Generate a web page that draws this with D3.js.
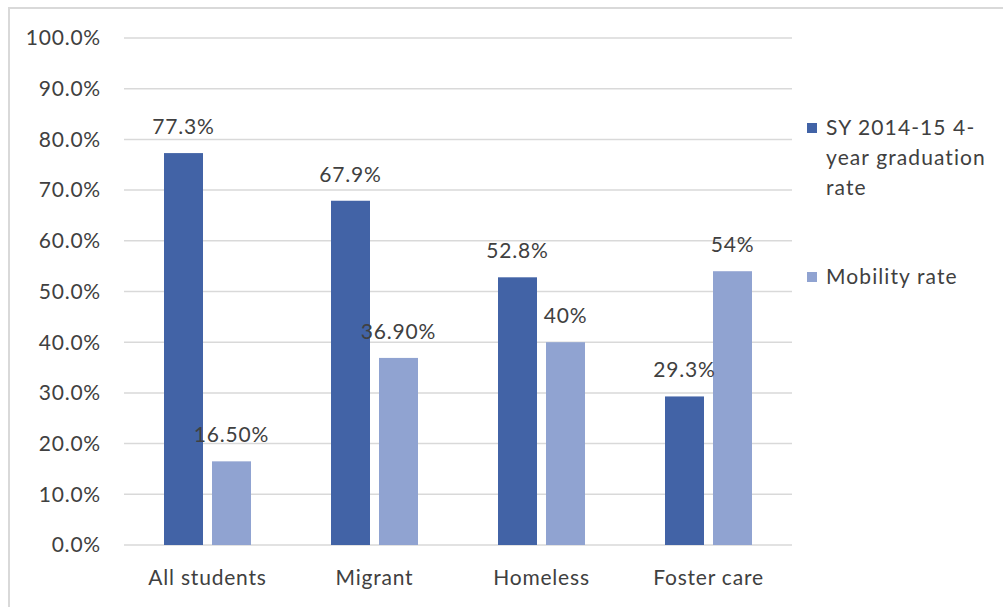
<!DOCTYPE html>
<html>
<head>
<meta charset="utf-8">
<script src="https://cdn.jsdelivr.net/npm/d3@7"></script>
<style>
  html, body { margin: 0; padding: 0; background: #fff; }
  svg { display: block; }
  text { font-family: Lato, "Open Sans", sans-serif; fill: #404040; }
</style>
</head>
<body>
<svg id="chart" width="1003" height="607"></svg>
<script>
const categories = ["All students", "Migrant", "Homeless", "Foster care"];
const seriesNames = ["SY 2014-15 4-year graduation rate", "Mobility rate"];
const graduationRate = [77.3, 67.9, 52.8, 29.3];
const mobilityRate = [16.5, 36.9, 40, 54];
const graduationLabels = ["77.3%", "67.9%", "52.8%", "29.3%"];
const mobilityLabels = ["16.50%", "36.90%", "40%", "54%"];
const yTicks = [0, 10, 20, 30, 40, 50, 60, 70, 80, 90, 100];
const legendLines = [["SY 2014-15 4-", "year graduation", "rate"], ["Mobility rate"]];
const colors = ["#4263a6", "#90a3d1"];

const svg = d3.select("#chart");

// outer chart border
svg.append("path")
  .attr("d", "M9,610 L9,8 L1010,8")
  .attr("fill", "none").attr("stroke", "#d9d9d9").attr("stroke-width", 2);

const plot = { left: 124, right: 792, top: 38, bottom: 545 };

const x0 = d3.scaleBand().domain(categories).range([plot.left, plot.right]).padding(0);
const groupW = 87;
const x1 = d3.scaleBand().domain([0, 1]).range([0, groupW]).paddingInner(0.1875);
const y = d3.scaleLinear().domain([0, 100]).range([plot.bottom, plot.top]);

// gridlines
svg.append("g").selectAll("line").data(yTicks).join("line")
  .attr("x1", plot.left).attr("x2", plot.right)
  .attr("y1", d => y(d)).attr("y2", d => y(d))
  .attr("stroke", "#d9d9d9").attr("stroke-width", 1.5);

// y tick labels
svg.append("g").selectAll("text").data(yTicks).join("text")
  .attr("x", 101).attr("y", d => y(d)).attr("dy", "0.35em")
  .attr("text-anchor", "end").attr("font-size", 21).attr("letter-spacing", 0.8)
  .text(d => d.toFixed(1) + "%");

const data = categories.map((c, i) => ({
  cat: c,
  vals: [
    { s: 0, v: graduationRate[i], label: graduationLabels[i] },
    { s: 1, v: mobilityRate[i], label: mobilityLabels[i] }
  ]
}));

const groups = svg.append("g").selectAll("g").data(data).join("g")
  .attr("transform", d => `translate(${x0(d.cat) + (x0.bandwidth() - groupW) / 2},0)`);

groups.selectAll("rect").data(d => d.vals).join("rect")
  .attr("x", d => x1(d.s)).attr("width", x1.bandwidth())
  .attr("y", d => y(d.v)).attr("height", d => y(0) - y(d.v))
  .attr("fill", d => colors[d.s]);

groups.selectAll("text").data(d => d.vals).join("text")
  .attr("x", d => x1(d.s) + x1.bandwidth() / 2)
  .attr("y", d => y(d.v) - 19)
  .attr("text-anchor", "middle").attr("font-size", 21).attr("letter-spacing", 0.8)
  .text(d => d.label);

// category labels
svg.append("g").selectAll("text").data(categories).join("text")
  .attr("x", d => x0(d) + x0.bandwidth() / 2).attr("y", 585)
  .attr("text-anchor", "middle").attr("font-size", 21).attr("letter-spacing", 0.8)
  .text(d => d);

// legend
const legendTop = [128, 277];
const lg = svg.append("g").selectAll("g").data(seriesNames).join("g");
lg.append("rect")
  .attr("x", 807).attr("y", (d, i) => legendTop[i] - 5)
  .attr("width", 10).attr("height", 10)
  .attr("fill", (d, i) => colors[i]);
lg.each(function(d, i) {
  d3.select(this).selectAll("text").data(legendLines[i]).join("text")
    .attr("x", 826).attr("y", (t, j) => legendTop[i] + j * 30)
    .attr("dy", "0.35em").attr("font-size", 21).attr("letter-spacing", 1.1)
    .text(t => t);
});
</script>
</body>
</html>
